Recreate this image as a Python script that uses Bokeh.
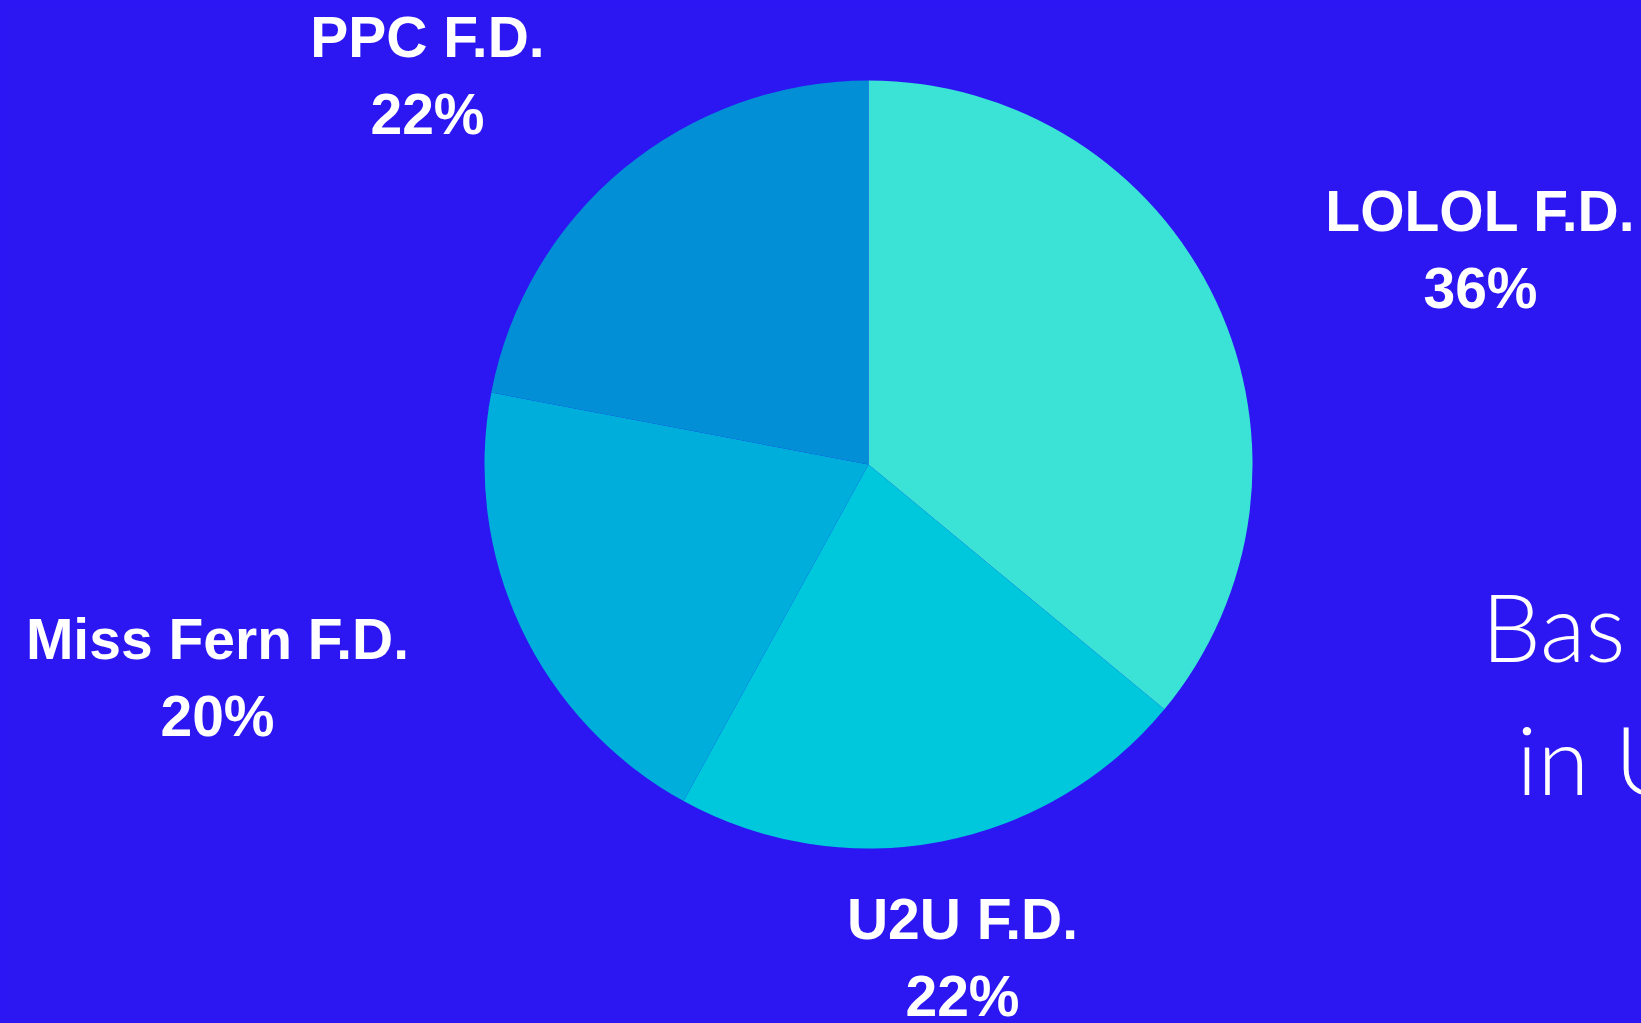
import math
from bokeh.plotting import figure
from bokeh.models import Range1d, ColumnDataSource
from bokeh.core.properties import value
from bokeh.embed import file_html
from bokeh.resources import INLINE

# ---- data ----
names = ["LOLOL F.D.", "U2U F.D.", "Miss Fern F.D.", "PPC F.D."]
shares = [36, 22, 20, 22]
colors = ["#3ae3d6", "#00c8dc", "#00aedc", "#028fd6"]

# ---- layout (figure pixels, y up) ----
W, H = 1641, 1023
BG = "#2c17f3"
cx, cy, R = 868, 559, 384
label_x = [1480, 962, 217, 427]
label_y = [813, 105, 385, 987]
line_gap = 77

total = float(sum(shares))
starts, ends = [], []
acc = 0.0
for s in shares:
    starts.append(math.pi / 2 - 2 * math.pi * acc / total)
    acc += s
    ends.append(math.pi / 2 - 2 * math.pi * acc / total)

src = ColumnDataSource(dict(
    x=[cx] * len(names), y=[cy] * len(names),
    start=starts, end=ends, color=colors, name=names,
    pct=[f"{v}%" for v in shares],
    lx=label_x, ly=label_y, ly2=[v - line_gap for v in label_y],
))

p = figure(width=W, height=H, output_backend="svg", toolbar_location=None,
           x_range=Range1d(0, W), y_range=Range1d(0, H),
           min_border=0, background_fill_color=BG, border_fill_color=BG,
           outline_line_color=None)
p.axis.visible = False
p.grid.visible = False

p.wedge(x="x", y="y", radius=R, start_angle="start", end_angle="end",
        direction="clock", fill_color="color", line_color=None, source=src)

common = dict(text_color="white", text_font=value("Liberation Sans"),
              text_font_style="bold", text_font_size="57px",
              text_align="center", text_baseline="alphabetic")
p.text(x="lx", y="ly", text="name", source=src, **common)
p.text(x="lx", y="ly2", text="pct", source=src, **common)

side_text = ["Bas", "in U"]
side_x = [1481, 1516]
side_y = [398, 265]
p.text(x=side_x, y=side_y, text=side_text, text_color="white",
       text_font=value("Lato Light, Lato, Open Sans"), text_font_size="94px",
       text_align="left", text_baseline="alphabetic")

html = file_html(p, INLINE)
html = html.replace("</head>", f"<style>html,body{{background:{BG};}}</style></head>", 1)
open("out.html", "w").write(html)
